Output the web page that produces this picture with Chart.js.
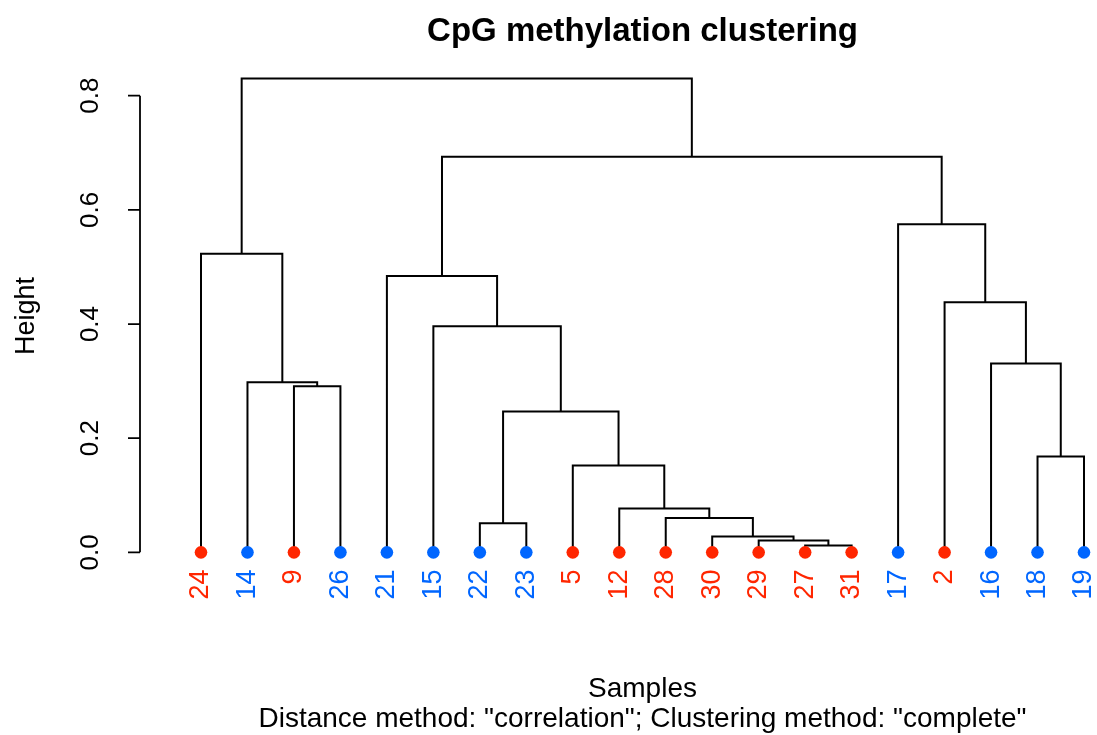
<!DOCTYPE html>
<html>
<head>
<meta charset="utf-8">
<script src="https://cdn.jsdelivr.net/npm/chart.js@4"></script>
<style>
  body { margin: 0; background: #fff; }
  #wrap { width: 1097px; height: 735px; }
</style>
</head>
<body>
<div id="wrap"><canvas id="dendro" width="1097" height="735"></canvas></div>
<script>
// leaves in plotted order
const leafLabels = ['24', '14', '9', '26', '21', '15', '22', '23', '5', '12', '28', '30', '29', '27', '31', '17', '2', '16', '18', '19'];
const leafGroup = ['r', 'b', 'r', 'b', 'b', 'b', 'b', 'b', 'r', 'r', 'r', 'r', 'r', 'r', 'r', 'b', 'r', 'b', 'b', 'b'];

// hclust style merges: negative = leaf (position in order), positive = earlier merge
const mergeLeft = [-14, -13, -12, -7, -11, -10, -9, -19, 4, -3, -2, -18, -6, -17, -5, -1, -16, 15, 16];
const mergeRight = [-15, 1, 2, -8, 3, 5, 6, -20, 7, -4, 10, 8, 9, 12, 13, 11, 14, 17, 18];
const mergeHeight = [0.012, 0.021, 0.028, 0.051, 0.060, 0.077, 0.152, 0.168, 0.247, 0.291, 0.298, 0.331, 0.396, 0.438, 0.484, 0.523, 0.575, 0.693, 0.830];

const yTicks = [0, 0.2, 0.4, 0.6, 0.8];

const groupColor = { r: '#ff2600', b: '#0066ff' };
const FONT = "'Liberation Sans', Arial, Helvetica, sans-serif";

Chart.defaults.font.family = FONT;
Chart.defaults.color = '#000';

// work out x/height of every merge, then the ⊓ shaped segments
const mergeX = [];
function nodeX(id) { return id < 0 ? -id : mergeX[id - 1]; }
function nodeH(id) { return id < 0 ? 0 : mergeHeight[id - 1]; }

const links = [];
mergeLeft.forEach((l, i) => {
  const r = mergeRight[i];
  const h = mergeHeight[i];
  const xl = nodeX(l), xr = nodeX(r);
  mergeX.push((xl + xr) / 2);
  links.push({ x: xl, y: nodeH(l) }, { x: xl, y: h }, { x: xr, y: h }, { x: xr, y: nodeH(r) });
  links.push({ x: xr, y: null });
});

const leafPoints = leafLabels.map((_, i) => ({ x: i + 1, y: 0 }));

// R style left axis: rotated labels, line only over the tick range
const rAxis = {
  id: 'rAxis',
  afterDraw(chart) {
    const ctx = chart.ctx;
    const y = chart.scales.y;
    const axX = 140;
    ctx.save();
    ctx.strokeStyle = '#000';
    ctx.lineWidth = 1.8;
    ctx.beginPath();
    ctx.moveTo(axX, y.getPixelForValue(yTicks[0]));
    ctx.lineTo(axX, y.getPixelForValue(yTicks[yTicks.length - 1]));
    yTicks.forEach(v => {
      const py = y.getPixelForValue(v);
      ctx.moveTo(axX, py);
      ctx.lineTo(axX - 12, py);
    });
    ctx.stroke();

    ctx.fillStyle = '#000';
    ctx.font = '26px ' + FONT;
    ctx.textAlign = 'center';
    ctx.textBaseline = 'alphabetic';
    yTicks.forEach(v => {
      ctx.save();
      ctx.translate(98, y.getPixelForValue(v));
      ctx.rotate(-Math.PI / 2);
      ctx.fillText(v.toFixed(1), 0, 0);
      ctx.restore();
    });

    ctx.font = '27px ' + FONT;
    ctx.translate(34, 316);
    ctx.rotate(-Math.PI / 2);
    ctx.fillText('Height', 0, 0);
    ctx.restore();
  }
};

new Chart(document.getElementById('dendro'), {
  type: 'scatter',
  data: {
    datasets: [
      {
        label: 'samples',
        data: leafPoints,
        pointRadius: 6.3,
        pointBackgroundColor: leafGroup.map(g => groupColor[g]),
        pointBorderWidth: 0,
        clip: false
      },
      {
        label: 'tree',
        data: links,
        showLine: true,
        spanGaps: false,
        borderColor: '#000',
        borderWidth: 2,
        pointRadius: 0,
        clip: false
      }
    ]
  },
  options: {
    responsive: false,
    animation: false,
    layout: { padding: { left: 201, right: 13, top: 0, bottom: 0 } },
    plugins: {
      legend: { display: false },
      tooltip: { enabled: false },
      title: {
        display: true,
        text: 'CpG methylation clustering',
        font: { size: 33, weight: 'bold' },
        color: '#000',
        padding: { top: 12, bottom: 27 }
      },
      subtitle: {
        display: true,
        position: 'bottom',
        text: 'Distance method: "correlation"; Clustering method: "complete"',
        font: { size: 28, lineHeight: 1.1 },
        color: '#000',
        padding: 0
      }
    },
    scales: {
      x: {
        type: 'linear',
        min: 1,
        max: 20,
        afterBuildTicks: s => { s.ticks = leafLabels.map((_, i) => ({ value: i + 1 })); },
        afterFit: s => { s.paddingLeft = 0; s.paddingRight = 0; },
        grid: { display: false, drawTicks: false },
        border: { display: false },
        ticks: {
          autoSkip: false,
          minRotation: 90,
          maxRotation: 90,
          padding: 17,
          font: { size: 27 },
          color: c => groupColor[leafGroup[c.index]],
          callback: (v, i) => leafLabels[i]
        },
        title: {
          display: true,
          text: 'Samples',
          font: { size: 28, lineHeight: 1.1 },
          color: '#000',
          padding: { top: 57, bottom: 0 }
        }
      },
      y: {
        display: false,
        min: 0,
        max: 0.830
      }
    }
  },
  plugins: [rAxis]
});
</script>
</body>
</html>
